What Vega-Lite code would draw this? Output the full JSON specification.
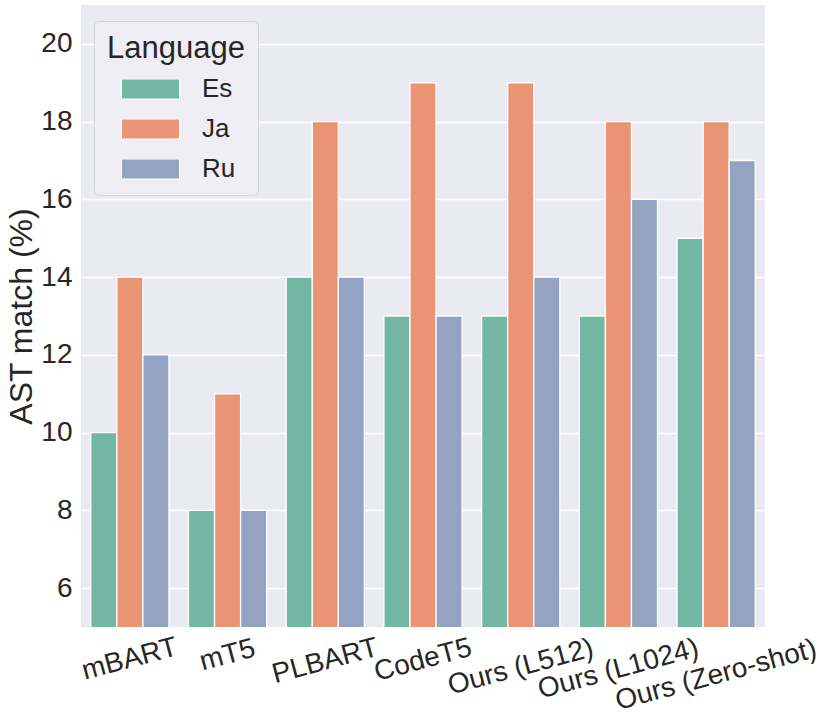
{
  "$schema": "https://vega.github.io/schema/vega-lite/v6.json",
  "autosize": {"type": "none"},
  "padding": {"left": 81, "top": 5, "right": 65, "bottom": 96},
  "width": 684,
  "height": 622,
  "background": "white",
  "data": {"values": [
    {"model": "mBART", "lang": "Es", "v": 10}, {"model": "mBART", "lang": "Ja", "v": 14}, {"model": "mBART", "lang": "Ru", "v": 12},
    {"model": "mT5", "lang": "Es", "v": 8}, {"model": "mT5", "lang": "Ja", "v": 11}, {"model": "mT5", "lang": "Ru", "v": 8},
    {"model": "PLBART", "lang": "Es", "v": 14}, {"model": "PLBART", "lang": "Ja", "v": 18}, {"model": "PLBART", "lang": "Ru", "v": 14},
    {"model": "CodeT5", "lang": "Es", "v": 13}, {"model": "CodeT5", "lang": "Ja", "v": 19}, {"model": "CodeT5", "lang": "Ru", "v": 13},
    {"model": "Ours (L512)", "lang": "Es", "v": 13}, {"model": "Ours (L512)", "lang": "Ja", "v": 19}, {"model": "Ours (L512)", "lang": "Ru", "v": 14},
    {"model": "Ours (L1024)", "lang": "Es", "v": 13}, {"model": "Ours (L1024)", "lang": "Ja", "v": 18}, {"model": "Ours (L1024)", "lang": "Ru", "v": 16},
    {"model": "Ours (Zero-shot)", "lang": "Es", "v": 15}, {"model": "Ours (Zero-shot)", "lang": "Ja", "v": 18}, {"model": "Ours (Zero-shot)", "lang": "Ru", "v": 17}
  ]},
  "config": {
    "font": "Liberation Sans",
    "view": {"fill": "#EAEAF2", "stroke": null},
    "axis": {"gridColor": "white", "gridWidth": 1.3, "domain": false, "ticks": false, "labelColor": "#262626", "titleColor": "#262626", "titleFontWeight": "normal"}
  },
  "mark": {"type": "bar", "stroke": "white", "strokeWidth": 1.3, "clip": true},
  "encoding": {
    "x": {
      "field": "model", "type": "nominal", "sort": null,
      "scale": {"paddingInner": 0.2, "paddingOuter": 0.1},
      "axis": {
        "title": null, "grid": false, "labelAngle": -15, "labelAlign": "center", "labelBaseline": "middle",
        "labelFontSize": 28, "labelLimit": 400, "labelOverlap": false,
        "labelPadding": {"condition": [
          {"test": "datum.label == 'mT5'", "value": 28},
          {"test": "datum.label == 'mBART'", "value": 32},
          {"test": "datum.label == 'PLBART'", "value": 34},
          {"test": "datum.label == 'CodeT5'", "value": 33},
          {"test": "datum.label == 'Ours (L512)'", "value": 40},
          {"test": "datum.label == 'Ours (L1024)'", "value": 42}
        ], "value": 48}
      }
    },
    "xOffset": {"field": "lang", "type": "nominal", "scale": {"paddingInner": 0, "paddingOuter": 0}},
    "y": {
      "field": "v", "type": "quantitative",
      "scale": {"domain": [5, 21], "nice": false, "zero": false},
      "axis": {"title": "AST match (%)", "titleFontSize": 32, "titlePadding": 2, "labelFontSize": 28, "labelPadding": 9, "values": [6, 8, 10, 12, 14, 16, 18, 20]}
    },
    "color": {
      "field": "lang", "type": "nominal",
      "scale": {"domain": ["Es", "Ja", "Ru"], "range": ["#71b7a1", "#e99575", "#95a3c3"]},
      "legend": {
        "title": "Language", "orient": "none", "legendX": 13, "legendY": 16,
        "titleFontSize": 31, "titleFontWeight": "normal", "titleColor": "#262626", "titleAnchor": "middle", "titleAlign": "center", "titlePadding": 14,
        "labelFontSize": 26, "labelColor": "#262626", "labelOffset": 22,
        "symbolType": "M-1,-0.345 L1,-0.345 L1,0.345 L-1,0.345 Z", "symbolSize": 3364, "symbolOffset": 4,
        "symbolStrokeColor": "white", "symbolStrokeWidth": 1, "symbolOpacity": 1,
        "clipHeight": 20, "rowPadding": 14,
        "padding": 13, "fillColor": "#eeeef4", "strokeColor": "#d4d4dc", "cornerRadius": 5
      }
    }
  }
}
